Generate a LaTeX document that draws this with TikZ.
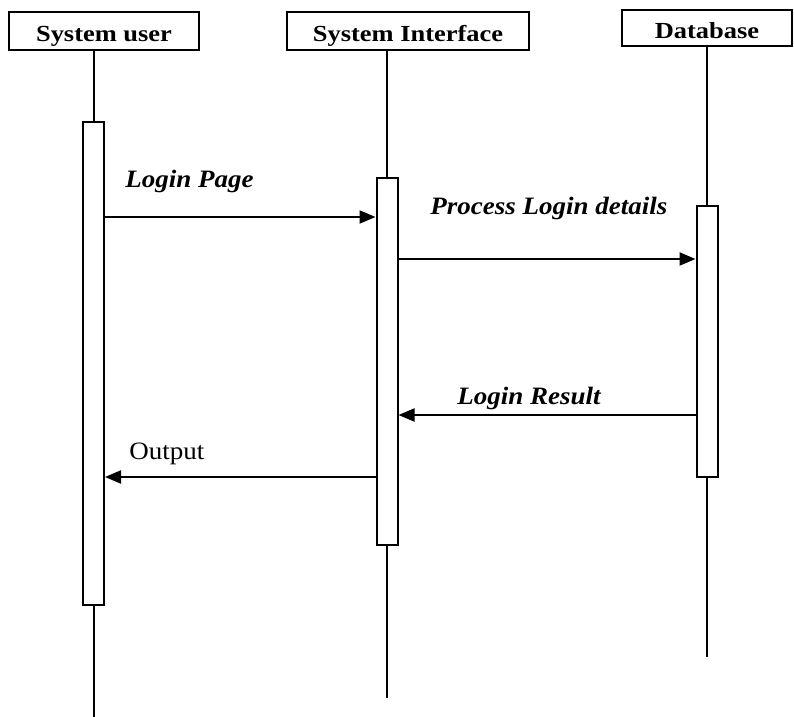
\documentclass[tikz,border=0pt]{standalone}
\usepackage{fontspec}
\setmainfont{Liberation Serif}
\newfontfamily\headfont[FakeStretch=1.15]{Liberation Serif}
\newfontfamily\msgfont[FakeStretch=1.08]{Liberation Serif}
\usetikzlibrary{arrows.meta, positioning}
\tikzset{
  msgarrow/.style={-{Triangle[length=8pt, width=6.5pt]}, line width=1pt, black},
  lifeline/.style={line width=1pt, black}
}

\begin{document}
\begin{tikzpicture}[x=0.5pt, y=-0.5pt,
    headbox/.style={rectangle, draw, line width=1pt, inner sep=0pt, minimum height=19pt, text height=10.5pt, text depth=0pt, font=\headfont\fontsize{11.5}{12}\selectfont\bfseries},
    actbox/.style={rectangle, draw, line width=1pt, fill=white, inner sep=0pt, minimum width=10.5pt},
    msglabel/.style={anchor=base west, inner sep=0pt, font=\msgfont\fontsize{12.5}{13}\selectfont\bfseries\itshape},
    plainlabel/.style={anchor=base west, inner sep=0pt, font=\msgfont\fontsize{12.5}{13}\selectfont}
]
    \useasboundingbox (0,0) rectangle (794,717);

    % Object boxes along the top
    \node[headbox, minimum width=95pt] (user) at (104, 31) {System user};
    \node[headbox, minimum width=121pt] (iface) at (408, 31) {System Interface};
    \node[headbox, minimum width=85pt, minimum height=18pt] (db) at (707, 28) {Database};

    % Ends of the lifelines
    \coordinate (end1) at (94, 717);
    \coordinate (end2) at (387, 698);
    \coordinate (end3) at (707, 657);

    % Lifelines
    \draw[lifeline] (end1 |- user.south) -- (end1);
    \draw[lifeline] (end2 |- iface.south) -- (end2);
    \draw[lifeline] (end3 |- db.south) -- (end3);

    % Activation bars
    \node[actbox, minimum height=241.5pt] (act1) at (93.5, 363.5) {};
    \node[actbox, minimum height=183.5pt] (act2) at (387, 361.5) {};
    \node[actbox, minimum height=135.5pt] (act3) at (707, 341.5) {};

    % Message levels
    \coordinate (m1) at (0, 217);
    \coordinate (m2) at (0, 259);
    \coordinate (m3) at (0, 415);
    \coordinate (m4) at (0, 477);

    % Messages
    \draw[msgarrow] (act1.east |- m1) -- (act2.west |- m1);
    \draw[msgarrow] (act2.east |- m2) -- (act3.west |- m2);
    \draw[msgarrow] (act3.west |- m3) -- (act2.east |- m3);
    \draw[msgarrow] (act2.west |- m4) -- (act1.east |- m4);

    % Message labels
    \node[msglabel] (lbl1) at (125, 188) {Login Page};
    \node[msglabel] (lbl2) at (430, 215) {Process Login details};
    \node[msglabel] (lbl3) at (457, 404) {Login Result};
    \node[plainlabel] (lbl4) at (129, 459) {Output};
\end{tikzpicture}
\end{document}
